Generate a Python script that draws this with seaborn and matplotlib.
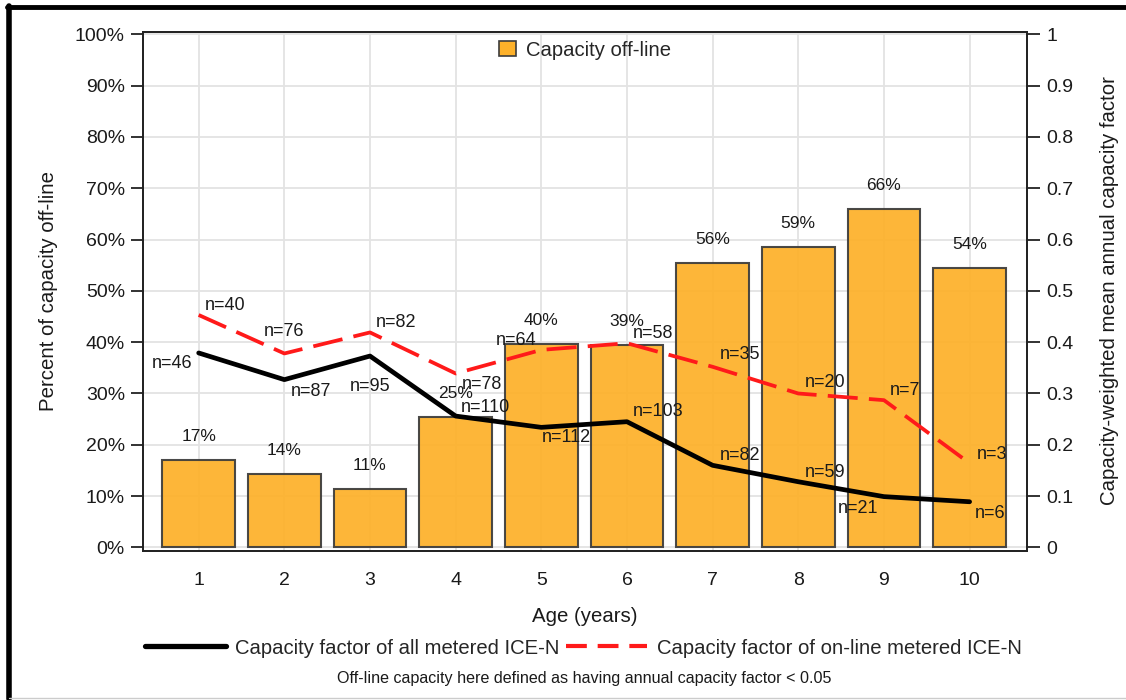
import numpy as np
import pandas as pd
import matplotlib
matplotlib.use("Agg")
import matplotlib.pyplot as plt
import seaborn as sns
from matplotlib.lines import Line2D
from matplotlib.patches import Patch

# ---------------- data ----------------
ages = [1, 2, 3, 4, 5, 6, 7, 8, 9, 10]
pct_offline = [17.0, 14.3, 11.3, 25.4, 39.6, 39.4, 55.5, 58.6, 65.9, 54.4]
pct_labels = ["17%", "14%", "11%", "25%", "40%", "39%", "56%", "59%", "66%", "54%"]
cf_all = [0.379, 0.327, 0.373, 0.256, 0.234, 0.245, 0.160, 0.128, 0.099, 0.089]
cf_online = [0.453, 0.378, 0.419, 0.339, 0.385, 0.398, 0.352, 0.300, 0.287, 0.164]
n_all = [46, 87, 95, 110, 112, 103, 82, 59, 21, 6]
n_online = [40, 76, 82, 78, 64, 58, 35, 20, 7, 3]

# label placement (pixel offsets from each point)
off_all = [(-27, -11), (27, -12), (0, -30), (30, 9), (25, -10), (31, 10),
           (27, 10), (27, 9), (-26, -12), (21, -12)]
off_online = [(26, 9), (0, 22), (26, 10), (26, -11), (-25, 9), (26, 10),
              (27, 12), (27, 11), (21, 10), (22, 9)]

df = pd.DataFrame({"age": ages, "pct": pct_offline})
dl = pd.DataFrame({"age": ages, "all": cf_all, "online": cf_online})

# ---------------- style ----------------
sns.set_theme(style="white")
plt.rcParams["font.family"] = ["Liberation Sans", "DejaVu Sans"]

BAR = "#FDB12A"
TXT = "#1a1a1a"
fig = plt.figure(figsize=(11.26, 7.0), dpi=100)
ax = fig.add_axes([143 / 1126, 1 - 550.5 / 700, (1027 - 143) / 1126, (550.5 - 31.5) / 700])

sns.barplot(data=df, x="age", y="pct", native_scale=True, width=0.85,
            color=BAR, alpha=0.93, edgecolor="#3c3c3c", linewidth=1.5,
            saturation=1, ax=ax, zorder=2)

ax.set_xlim(0.35, 10.67)
ax.set_ylim(-0.6, 100.55)
ax.set_yticks(np.arange(0, 101, 10))
ax.set_yticklabels([f"{v}%" for v in range(0, 101, 10)])
ax.set_xticks(ages)
ax.set_xticklabels([str(a) for a in ages])
ax.grid(True, color="#e3e3e3", linewidth=1.3, zorder=0)
ax.set_axisbelow(True)
for s in ax.spines.values():
    s.set_color("#222222")
    s.set_linewidth(1.3)
ax.tick_params(axis="both", which="both", direction="out", length=9, width=1.3,
               color="#222222", labelsize=14, labelcolor=TXT, pad=4)
ax.tick_params(axis="x", pad=6.5)
ax.set_xlabel("Age (years)", fontsize=14.7, color=TXT, labelpad=13)
ax.set_ylabel("Percent of capacity off-line", fontsize=14.7, color=TXT, labelpad=12)

for a, v, lab in zip(ages, pct_offline, pct_labels):
    ax.annotate(lab, (a, v), xytext=(0, 23.5), textcoords="offset pixels",
                ha="center", va="center", fontsize=12.5, color=TXT, zorder=5)

# ---------------- right axis lines ----------------
ax2 = ax.twinx()
sns.lineplot(data=dl, x="age", y="all", color="black", linewidth=3.4, ax=ax2, zorder=4)
sns.lineplot(data=dl, x="age", y="online", color="#ff1a1a", linewidth=2.7, ax=ax2, zorder=4)
ax2.lines[1].set_dashes([8, 3])
ax2.set_ylim(-0.006, 1.0055)
ax2.set_yticks(np.arange(0, 1.01, 0.1))
ax2.set_yticklabels(["0", "0.1", "0.2", "0.3", "0.4", "0.5", "0.6", "0.7", "0.8", "0.9", "1"])
ax2.set_xlim(0.35, 10.67)
ax2.grid(False)
for s in ax2.spines.values():
    s.set_color("#222222")
    s.set_linewidth(1.3)
ax2.tick_params(axis="y", direction="out", length=9, width=1.3, color="#222222",
                labelsize=14, labelcolor=TXT, pad=5)
ax2.set_ylabel("Capacity-weighted mean annual capacity factor", fontsize=14.7,
               color=TXT, labelpad=19)
ax2.set_xlabel("")

for a, v, n, o in zip(ages, cf_all, n_all, off_all):
    ax2.annotate(f"n={n}", (a, v), xytext=o, textcoords="offset pixels",
                 ha="center", va="center", fontsize=13, color=TXT, zorder=6)
for a, v, n, o in zip(ages, cf_online, n_online, off_online):
    ax2.annotate(f"n={n}", (a, v), xytext=o, textcoords="offset pixels",
                 ha="center", va="center", fontsize=13, color=TXT, zorder=6)

# ---------------- legends ----------------
bar_handle = Patch(facecolor=BAR, edgecolor="#3c3c3c", linewidth=1.2)
ax2.legend([bar_handle], ["Capacity off-line"], loc="center",
           bbox_to_anchor=(0.5, 1 - (50 - 31.5) / 519), frameon=False, fontsize=14.6,
           handlelength=0.8, handleheight=0.8, handletextpad=0.5, borderpad=0)

line_handles = [Line2D([], [], color="black", linewidth=3.8),
                Line2D([], [], color="#ff1a1a", linewidth=3.0, dashes=[5, 2.6])]
fig.legend(line_handles, ["Capacity factor of all metered ICE-N",
                          "Capacity factor of on-line metered ICE-N"],
           loc="center", bbox_to_anchor=(583 / 1126, 1 - 648 / 700), ncol=2,
           frameon=False, fontsize=14.6, handlelength=4.0, handletextpad=0.45,
           columnspacing=0.35, borderpad=0)

fig.text(584 / 1126, 1 - 678 / 700,
         "Off-line capacity here defined as having annual capacity factor < 0.05",
         ha="center", va="center", fontsize=11.6, color=TXT)

# outer frame (left & top visible, bottom thin)
fig.add_artist(Line2D([9 / 1126, 9 / 1126], [1 - 6 / 700, 1 - 699 / 700],
                      transform=fig.transFigure, color="black", linewidth=4))
fig.add_artist(Line2D([7 / 1126, 1.0], [1 - 6.5 / 700, 1 - 6.5 / 700],
                      transform=fig.transFigure, color="black", linewidth=3.5))
fig.add_artist(Line2D([9 / 1126, 1.0], [1 - 698 / 700, 1 - 698 / 700],
                      transform=fig.transFigure, color="#cccccc", linewidth=1))

fig.savefig("out.png", dpi=100)
